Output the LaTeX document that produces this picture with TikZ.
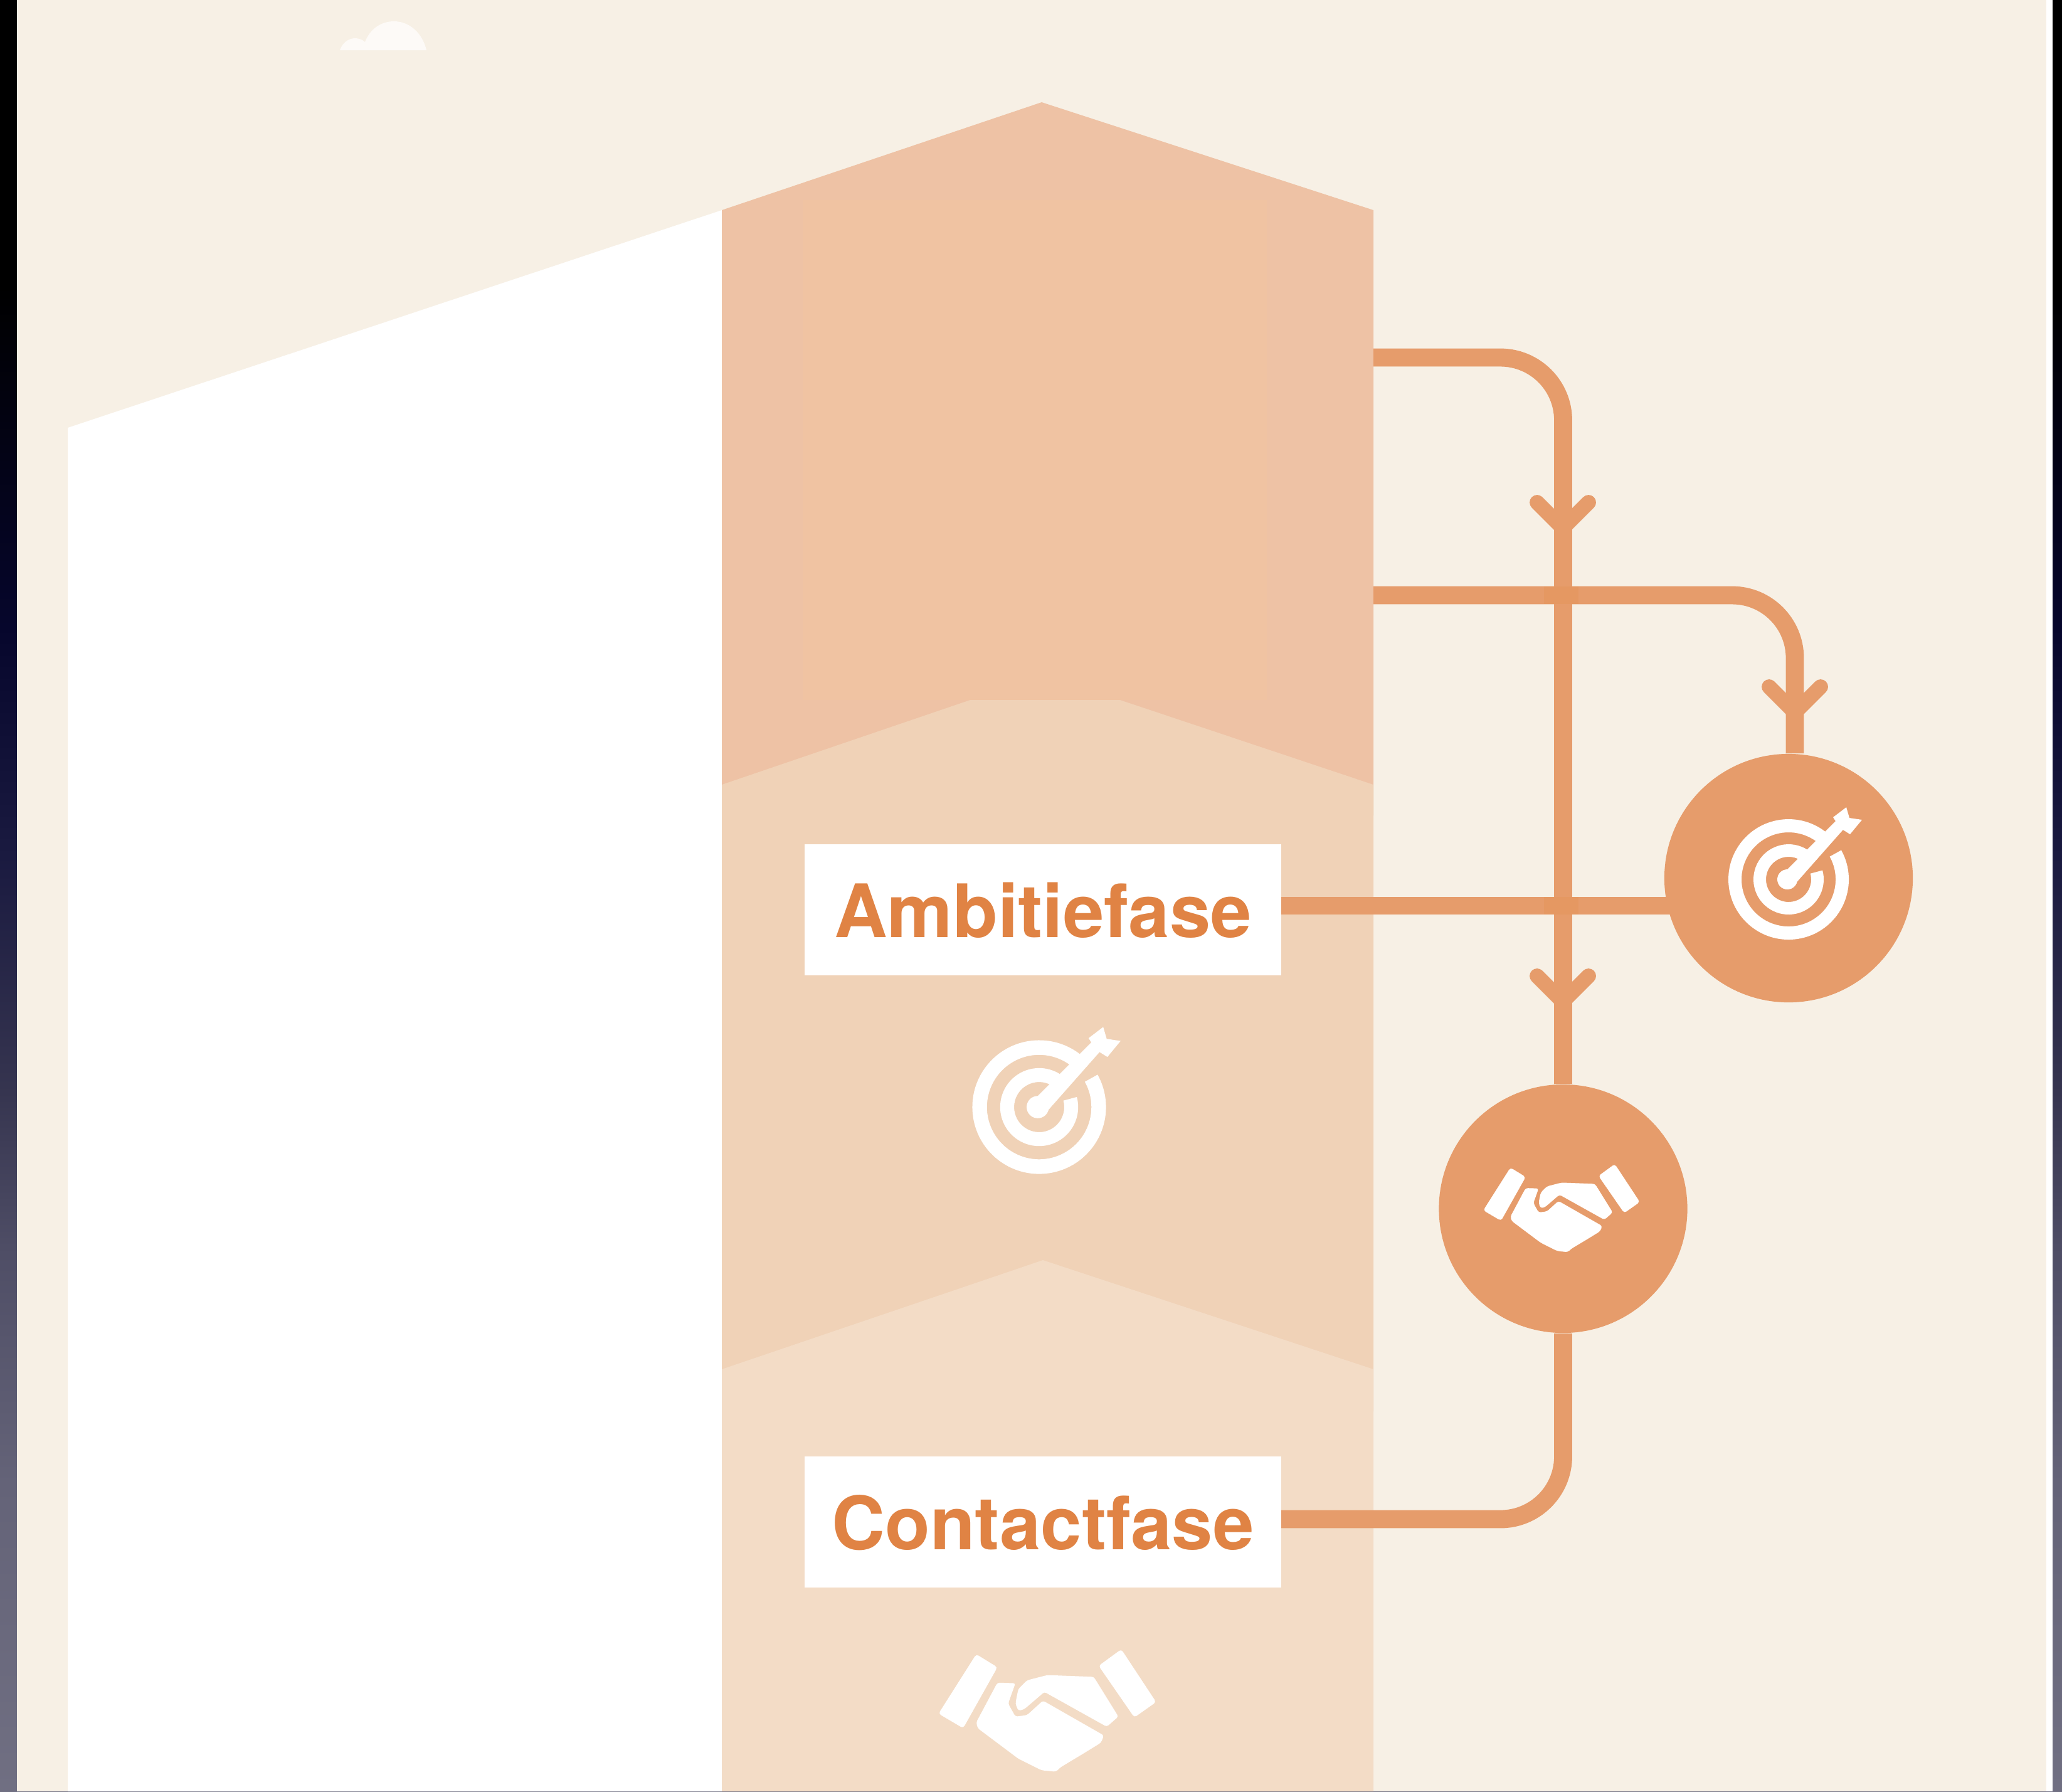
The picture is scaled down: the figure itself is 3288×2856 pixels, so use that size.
\documentclass[tikz,border=0pt]{standalone}
\usepackage{fontspec}
\setmainfont{TeX Gyre Heros}
\usetikzlibrary{calc}
\definecolor{panelbg}{HTML}{F7F0E5}
\definecolor{roofc}{HTML}{EEC2A5}
\definecolor{roofin}{HTML}{F0C3A2}
\definecolor{midc}{HTML}{F0D2B7}
\definecolor{lowc}{HTML}{F3DCC6}
\definecolor{linec}{HTML}{E69C6B}
\definecolor{linedark}{HTML}{E59862}
\definecolor{textc}{HTML}{E08344}
\definecolor{cloudc}{HTML}{FDFAF7}
\definecolor{sA}{HTML}{706F82}
\definecolor{sB}{HTML}{646378}
\definecolor{sC}{HTML}{4F4E66}
\definecolor{sD}{HTML}{35344F}
\definecolor{sE}{HTML}{1A1A40}
\definecolor{sF}{HTML}{06062C}
\definecolor{sG}{HTML}{000000}
\pgfdeclareverticalshading{stripshade}{100bp}{color(0bp)=(sA); color(25bp)=(sA); color(33.6bp)=(sB); color(40bp)=(sC); color(44.7bp)=(sD); color(51.1bp)=(sE); color(57.5bp)=(sF); color(67bp)=(sG); color(100bp)=(sG)}
\tikzset{
  labelbox/.style={fill=white,text=textc,minimum width=7.6cm,minimum height=2.09cm,inner sep=0pt,
    text height=0.87cm,text depth=0pt,font=\bfseries\fontsize{33.4}{33.4}\selectfont},
  badge/.style={circle,fill=linec,minimum size=3.96cm,inner sep=0pt},
  connector/.style={draw=linec,line width=8.2pt,rounded corners=1cm},
  barbline/.style={draw=linec,line width=6.8pt,line cap=round,line join=round},
  barb/.pic={\draw[barbline] (-41,-41) -- (0,0) -- (41,-41);},
  targeticon/.pic={
    \begin{scope}[y=0.01cm]
      \fill[white] (51:96) arc[start angle=51,end angle=389,radius=96] -- (29:75) arc[start angle=389,end angle=51,radius=75] -- cycle;
      \fill[white] (58:56) arc[start angle=58,end angle=375,radius=56] -- (15:36) arc[start angle=375,end angle=58,radius=36] -- cycle;
      \fill[white] (-2,0) circle[radius=16];
      \fill[white] (-12,6) -- (79,97) -- (92,85) -- (8,-10) -- cycle;
      \fill[white] (71,99) -- (92,115) -- (97,98) -- (117,95) -- (98,72) -- (82,82) -- cycle;
    \end{scope}
  },
  shakeicon/.pic={
    \begin{scope}[x=0.0033333cm,y=-0.0033333cm,shift={(-720,-684)}]
      \fill[white,rounded corners=1.2pt] (475,490) -- (548,535) -- (430,745) -- (345,695) -- cycle;
      \fill[white,rounded corners=1.2pt] (975,473) -- (1095,655) -- (1020,708) -- (897,530) -- cycle;
      \fill[white,rounded corners=1pt] (548,588) -- (610,590) -- (585,660) -- (610,705) -- (650,700) -- (705,650) -- (915,770) -- (905,795) -- (840,835) -- (765,880) -- (750,895) -- (700,890) -- (620,850) -- (480,745) -- (475,725) -- cycle;
      \fill[white,rounded corners=1pt] (650,580) -- (720,562) -- (880,568) -- (965,705) -- (925,740) -- (710,620) -- (640,680) -- (620,685) -- (610,660) -- (620,610) -- cycle;
    \end{scope}
  }
}
\begin{document}
\begin{tikzpicture}[x=0.01cm,y=-0.01cm]
\useasboundingbox (0,0) rectangle (3288,2856);
% backdrop strips and panel
\shade[shading=stripshade] (0,0) rectangle (3288,2856);
\fill[white] (27,0) rectangle (3273,2856);
\fill[panelbg] (27,0) rectangle (3263,2856);
% cloud
\fill[cloudc] (542,80) .. controls (546,68) and (556,61) .. (566,61) .. controls (572,61) and (578,63) .. (582,67) .. controls (590,46) and (608,34) .. (628,34) .. controls (654,34) and (674,54) .. (680,80) -- cycle;
% building
\fill[white] (108,682) -- (1151,335) -- (1151,2856) -- (108,2856) -- cycle;
\fill[roofc] (1151,335) -- (1661,163) -- (2190,335) -- (2190,1300) -- (1151,1300) -- cycle;
\fill[roofin] (1280,319) rectangle (2020,1116);
\fill[midc] (1151,1251) -- (1547,1116) -- (1786,1116) -- (2190,1251) -- (2190,2250) -- (1151,2250) -- cycle;
\fill[lowc] (1151,2183) -- (1663,2009) -- (2190,2183) -- (2190,2856) -- (1151,2856) -- cycle;
% nodes
\node[labelbox] (ambitie) at (1663,1450.5) {Ambitiefase};
\node[labelbox] (contact) at (1663,2426.5) {Contactfase};
\node[badge] (goal) at (2852,1400) {};
\node[badge] (hand) at (2492.5,1927) {};
% connector ends
\coordinate (out-a) at (2190,570);
\coordinate (out-b) at (2190,949);
\coordinate (out-c) at (2043,1444);
\coordinate (in-c) at (2664,1444);
\coordinate (out-d) at (2043,2422);
% connectors
\draw[connector] (out-a) -| (hand.north);
\draw[connector] (out-b) -| ($(goal.north)+(10,0)$);
\draw[connector] (out-c) -- (in-c);
\draw[connector] (out-d) -| (hand.south);
% crossings
\fill[linedark] (2462,935) rectangle (2517,963);
\fill[linedark] (2462,1430) rectangle (2517,1458);
% barbs
\pic at (2492,842) {barb};
\pic at (2862,1136) {barb};
\pic at (2492,1597) {barb};
% icons
\pic at (2852,1402) {targeticon};
\pic[scale=1.11] at (1657,1765) {targeticon};
\pic at (2490,1926) {shakeicon};
\pic[scale=1.39] at (1670,2727) {shakeicon};
\end{tikzpicture}
\end{document}
